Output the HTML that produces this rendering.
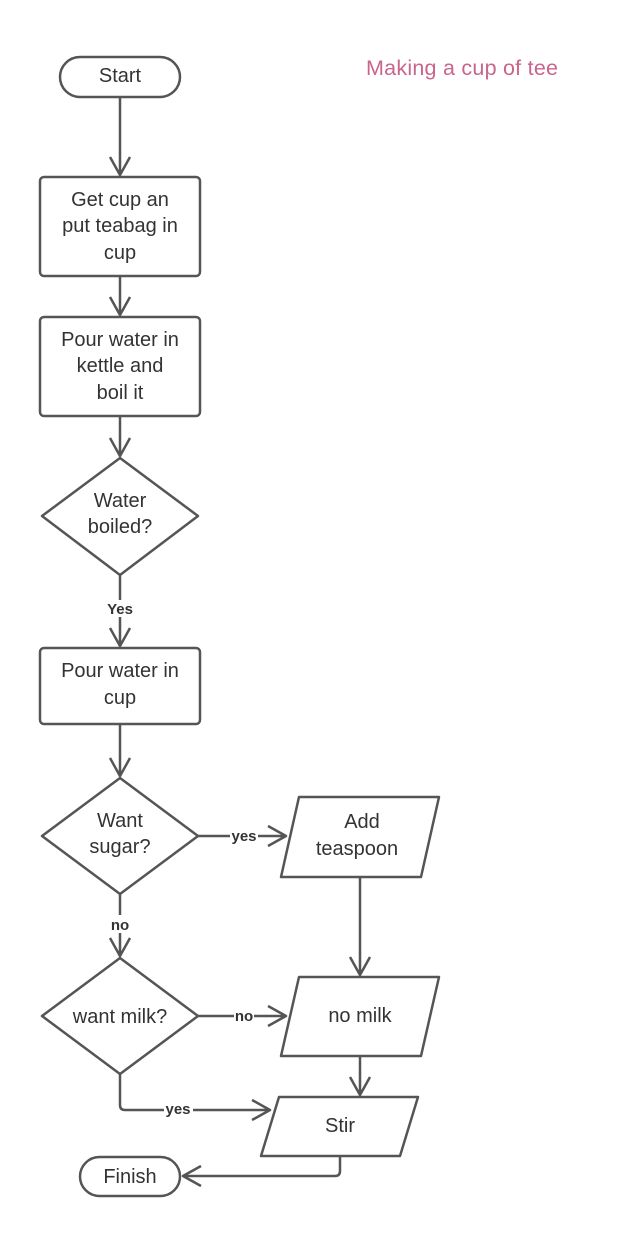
<!DOCTYPE html>
<html><head><meta charset="utf-8"><style>
html,body{margin:0;padding:0;background:#fff;}
svg{display:block;}
text{font-family:"Liberation Sans",sans-serif;fill:#333;}
.n{font-size:20px;text-anchor:middle;}
.l{font-size:15px;font-weight:bold;text-anchor:middle;}
</style></head><body>
<svg width="623" height="1237" viewBox="0 0 623 1237" xmlns="http://www.w3.org/2000/svg">
<g fill="none" stroke="#555" stroke-width="2.5" stroke-linejoin="round">
<rect x="60" y="57" width="120" height="40" rx="20"/>
<rect x="40" y="177" width="160" height="99" rx="4"/>
<rect x="40" y="317" width="160" height="99" rx="4"/>
<polygon points="120,458 198,516 120,575 42,516"/>
<rect x="40" y="648" width="160" height="76" rx="4"/>
<polygon points="120,778 198,836 120,894 42,836"/>
<polygon points="120,958 198,1016 120,1074 42,1016"/>
<polygon points="299,797 439,797 421,877 281,877"/>
<polygon points="299,977 439,977 421,1056 281,1056"/>
<polygon points="279,1097 418,1097 400,1156 261,1156"/>
<rect x="80" y="1157" width="100" height="39" rx="19.5"/>
<path d="M120 97V175M110 157L120 175L130 157"/>
<path d="M120 276V315M110 297L120 315L130 297"/>
<path d="M120 416V456M110 438L120 456L130 438"/>
<path d="M120 575V600M120 617V646M110 628L120 646L130 628"/>
<path d="M120 724V776M110 758L120 776L130 758"/>
<path d="M198 836H230M258 836H286M268 826L286 836L268 846"/>
<path d="M120 894V915M120 933V956M110 938L120 956L130 938"/>
<path d="M360 877V975M350 957L360 975L370 957"/>
<path d="M198 1016H234M254 1016H286M268 1006L286 1016L268 1026"/>
<path d="M360 1056V1095M350 1077L360 1095L370 1077"/>
<path d="M120 1074V1105Q120 1110 125 1110H164M193 1110H270M252 1100L270 1110L252 1120"/>
<path d="M340 1156V1171Q340 1176 335 1176H183M201 1166L183 1176L201 1186"/>
</g>
<text class="n" x="120" y="82">Start</text>
<text class="n" x="120" y="206">Get cup an</text>
<text class="n" x="120" y="232">put teabag in</text>
<text class="n" x="120" y="259">cup</text>
<text class="n" x="120" y="346">Pour water in</text>
<text class="n" x="120" y="372">kettle and</text>
<text class="n" x="120" y="399">boil it</text>
<text class="n" x="120" y="507">Water</text>
<text class="n" x="120" y="533">boiled?</text>
<text class="l" x="120" y="614">Yes</text>
<text class="n" x="120" y="677">Pour water in</text>
<text class="n" x="120" y="704">cup</text>
<text class="n" x="120" y="827">Want</text>
<text class="n" x="120" y="853">sugar?</text>
<text class="l" x="244" y="841">yes</text>
<text class="n" x="362" y="828">Add</text>
<text class="n" x="357" y="855">teaspoon</text>
<text class="l" x="120" y="930">no</text>
<text class="n" x="120" y="1023">want milk?</text>
<text class="l" x="244" y="1021">no</text>
<text class="n" x="360" y="1022">no milk</text>
<text class="l" x="178" y="1114">yes</text>
<text class="n" x="340" y="1132">Stir</text>
<text class="n" x="130" y="1183">Finish</text>
<text x="366" y="75" textLength="192" style="font-size:21.5px;fill:#c9658c;">Making a cup of tee</text>
</svg>
</body></html>
